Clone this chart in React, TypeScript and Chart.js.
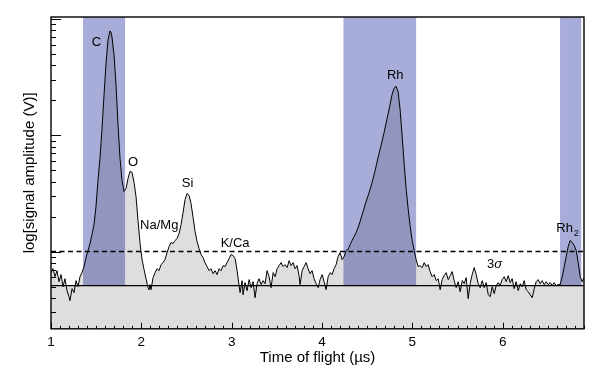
import React, { useEffect, useRef } from 'react';
import { Chart, registerables } from 'chart.js';

Chart.register(...registerables);

// Time of flight (µs)
const timeOfFlight = [
  1.000,1.022,1.044,1.066,1.089,1.111,1.133,1.155,1.177,1.199,
  1.210,1.233,1.255,1.277,1.299,1.321,1.343,1.365,1.388,1.410,
  1.432,1.454,1.476,1.498,1.520,1.543,1.565,1.587,1.609,1.631,
  1.653,1.664,1.675,1.698,1.720,1.742,1.764,1.786,1.808,1.831,
  1.853,1.875,1.897,1.919,1.941,1.963,1.986,2.008,2.030,2.052,
  2.074,2.085,2.096,2.107,2.130,2.152,2.174,2.196,2.218,2.240,
  2.262,2.285,2.307,2.329,2.351,2.373,2.395,2.418,2.440,2.462,
  2.484,2.506,2.528,2.550,2.573,2.595,2.617,2.639,2.661,2.683,
  2.705,2.727,2.750,2.772,2.794,2.816,2.838,2.860,2.883,2.905,
  2.927,2.949,2.971,2.993,3.016,3.038,3.060,3.082,3.093,3.115,
  3.126,3.148,3.170,3.193,3.215,3.237,3.259,3.281,3.303,3.326,
  3.348,3.370,3.392,3.414,3.436,3.459,3.481,3.503,3.525,3.547,
  3.569,3.591,3.614,3.636,3.658,3.680,3.702,3.724,3.746,3.757,
  3.780,3.802,3.824,3.846,3.868,3.890,3.912,3.935,3.957,3.979,
  4.001,4.023,4.045,4.068,4.090,4.112,4.134,4.156,4.178,4.200,
  4.223,4.245,4.267,4.289,4.311,4.333,4.355,4.378,4.400,4.422,
  4.455,4.488,4.522,4.555,4.588,4.621,4.654,4.688,4.721,4.754,
  4.776,4.798,4.820,4.843,4.865,4.887,4.909,4.931,4.953,4.976,
  4.998,5.020,5.042,5.064,5.086,5.109,5.131,5.153,5.175,5.197,
  5.219,5.242,5.264,5.286,5.308,5.330,5.352,5.374,5.397,5.419,
  5.441,5.463,5.485,5.507,5.529,5.552,5.574,5.596,5.618,5.640,
  5.662,5.685,5.707,5.729,5.751,5.773,5.795,5.817,5.840,5.862,
  5.884,5.906,5.928,5.950,5.972,5.994,6.017,6.039,6.061,6.083,
  6.105,6.127,6.149,6.172,6.194,6.216,6.238,6.260,6.282,6.304,
  6.327,6.349,6.371,6.393,6.415,6.437,6.460,6.482,6.504,6.526,
  6.548,6.570,6.592,6.614,6.637,6.659,6.681,6.703,6.725,6.747,
  6.770,6.792,6.814,6.836,6.858,6.880,6.900,
];

// log10 of signal amplitude (V)
const logAmplitude = [
  -1.181,-1.147,-1.216,-1.164,-1.259,-1.198,-1.302,-1.233,-1.336,-1.388,
  -1.422,-1.319,-1.353,-1.250,-1.302,-1.216,-1.181,-1.129,-1.052,-0.991,
  -0.931,-0.853,-0.767,-0.612,-0.388,-0.190,0.060,0.345,0.621,0.819,
  0.897,0.888,0.845,0.690,0.431,0.086,-0.198,-0.388,-0.483,-0.457,
  -0.371,-0.310,-0.319,-0.405,-0.526,-0.733,-0.931,-1.069,-1.155,-1.233,
  -1.310,-1.328,-1.284,-1.328,-1.224,-1.181,-1.147,-1.164,-1.112,-1.095,
  -1.069,-1.009,-0.957,-0.922,-0.931,-0.905,-0.888,-0.845,-0.767,-0.664,
  -0.552,-0.500,-0.517,-0.586,-0.707,-0.828,-0.914,-0.974,-1.026,-1.052,
  -1.095,-1.129,-1.164,-1.147,-1.190,-1.164,-1.198,-1.147,-1.164,-1.121,
  -1.129,-1.095,-1.060,-1.026,-1.034,-1.060,-1.164,-1.293,-1.353,-1.250,
  -1.371,-1.267,-1.336,-1.241,-1.310,-1.259,-1.397,-1.276,-1.233,-1.284,
  -1.250,-1.276,-1.164,-1.216,-1.310,-1.181,-1.216,-1.147,-1.121,-1.095,
  -1.129,-1.112,-1.138,-1.078,-1.121,-1.095,-1.147,-1.121,-1.207,-1.284,
  -1.164,-1.129,-1.095,-1.147,-1.190,-1.164,-1.233,-1.276,-1.310,-1.241,
  -1.198,-1.259,-1.328,-1.216,-1.181,-1.198,-1.147,-1.112,-1.043,-1.009,
  -1.069,-1.043,-0.991,-0.983,-0.940,-0.905,-0.871,-0.836,-0.793,-0.741,
  -0.655,-0.569,-0.491,-0.405,-0.302,-0.190,-0.086,0.026,0.147,0.267,
  0.353,0.405,0.422,0.371,0.216,-0.009,-0.241,-0.457,-0.629,-0.784,
  -0.905,-0.991,-1.069,-1.129,-1.121,-1.138,-1.095,-1.129,-1.112,-1.172,
  -1.216,-1.198,-1.250,-1.233,-1.328,-1.241,-1.207,-1.181,-1.241,-1.207,
  -1.172,-1.250,-1.310,-1.259,-1.345,-1.250,-1.276,-1.224,-1.405,-1.276,
  -1.198,-1.138,-1.198,-1.276,-1.310,-1.250,-1.310,-1.267,-1.371,-1.388,
  -1.302,-1.362,-1.293,-1.267,-1.293,-1.241,-1.216,-1.259,-1.207,-1.267,
  -1.233,-1.319,-1.259,-1.336,-1.276,-1.302,-1.250,-1.328,-1.345,-1.371,
  -1.397,-1.319,-1.259,-1.241,-1.276,-1.250,-1.284,-1.259,-1.284,-1.267,
  -1.293,-1.267,-1.293,-1.284,-1.284,-1.216,-1.129,-1.043,-0.957,-0.905,
  -0.922,-0.948,-0.991,-1.095,-1.216,-1.259,-1.224,
];

const xTickLabels = [1, 2, 3, 4, 5, 6];
const yDecades = [-2, -1, 0, 1];
const yDecadeMultipliers = [1, 2, 3, 4, 5, 6, 7, 8, 9];

const bandStart = [1.355, 4.237, 6.635];
const bandEnd = [1.82, 5.042, 6.87];

const baselineLevel = -1.293;
const threeSigmaLevel = -1.0;

const peakNames = ['C', 'O', 'Na/Mg', 'Si', 'K/Ca', 'Rh'];
const peakNameTime = [1.502, 1.908, 2.198, 2.512, 3.038, 4.81];
const peakNameLog = [0.802, -0.23, -0.776, -0.412, -0.931, 0.515];
const dimerTime = 6.718;
const dimerLog = -0.802;
const sigmaTime = 5.911;
const sigmaLog = -1.112;

const FONT = '"Liberation Sans", Arial, Helvetica, sans-serif';
const BAND_COLOR = 'rgb(168,172,217)';
const LOWER_GRAY = '#dedede';

const overlayPlugin = {
  id: 'tofOverlay',
  beforeDatasetsDraw(chart: any) {
    const { ctx, chartArea: a, scales } = chart;
    const x = scales.x, y = scales.y;
    const yb = y.getPixelForValue(baselineLevel);
    ctx.save();
    ctx.fillStyle = BAND_COLOR;
    bandStart.forEach((s, i) => {
      const x0 = x.getPixelForValue(s);
      const x1 = x.getPixelForValue(bandEnd[i]);
      ctx.fillRect(x0, a.top, x1 - x0, yb - a.top);
    });
    ctx.restore();
  },
  beforeDatasetDraw(chart: any, args: any) {
    if (args.index !== 0) return;
    const { ctx, chartArea: a, scales } = chart;
    const yb = scales.y.getPixelForValue(baselineLevel);
    ctx.save();
    ctx.fillStyle = LOWER_GRAY;
    ctx.fillRect(a.left, yb, a.right - a.left, a.bottom - yb);
    ctx.restore();
  },
  afterDatasetsDraw(chart: any) {
    const { ctx, chartArea: a, scales } = chart;
    const x = scales.x, y = scales.y;
    ctx.save();
    // baseline
    const yb = y.getPixelForValue(baselineLevel);
    ctx.strokeStyle = '#000';
    ctx.lineWidth = 1.4;
    ctx.beginPath();
    ctx.moveTo(a.left, yb);
    ctx.lineTo(a.right, yb);
    ctx.stroke();
    // 3 sigma dashed line
    const ys = y.getPixelForValue(threeSigmaLevel);
    ctx.setLineDash([5, 3.5]);
    ctx.lineWidth = 1.5;
    ctx.beginPath();
    ctx.moveTo(a.left, ys);
    ctx.lineTo(a.right, ys);
    ctx.stroke();
    ctx.setLineDash([]);

    // y ticks (log decades, inward)
    ctx.lineWidth = 1;
    yDecades.forEach((d) => {
      yDecadeMultipliers.forEach((m) => {
        const v = d + Math.log10(m);
        if (v < y.min || v > y.max) return;
        const py = Math.round(y.getPixelForValue(v)) + 0.5;
        const len = m === 1 ? 10 : 5;
        ctx.beginPath();
        ctx.moveTo(a.left, py);
        ctx.lineTo(a.left + len, py);
        ctx.stroke();
      });
    });
    // x ticks (inward)
    for (let k = 10; k <= 69; k++) {
      const v = k / 10;
      const px = Math.round(x.getPixelForValue(v)) + 0.5;
      const len = k % 10 === 0 ? 6 : 3;
      ctx.beginPath();
      ctx.moveTo(px, a.bottom);
      ctx.lineTo(px, a.bottom - len);
      ctx.stroke();
    }

    // frame
    ctx.lineWidth = 1.4;
    ctx.strokeRect(a.left, a.top, a.right - a.left, a.bottom - a.top);

    // labels
    ctx.fillStyle = '#000';
    ctx.font = `13px ${FONT}`;
    ctx.textAlign = 'center';
    ctx.textBaseline = 'middle';
    peakNames.forEach((n, i) => {
      ctx.fillText(n, x.getPixelForValue(peakNameTime[i]), y.getPixelForValue(peakNameLog[i]));
    });
    // Rh2
    const rhW = ctx.measureText('Rh').width;
    ctx.font = `9px ${FONT}`;
    const subW = ctx.measureText('2').width;
    const cx = x.getPixelForValue(dimerTime);
    const cy = y.getPixelForValue(dimerLog);
    const left = cx - (rhW + subW + 1) / 2;
    ctx.textAlign = 'left';
    ctx.font = `13px ${FONT}`;
    ctx.fillText('Rh', left, cy);
    ctx.font = `9px ${FONT}`;
    ctx.fillText('2', left + rhW + 1, cy + 5);
    // 3 sigma
    ctx.font = `13px ${FONT}`;
    const w3 = ctx.measureText('3').width;
    ctx.font = `italic 13px ${FONT}`;
    const ws = ctx.measureText('σ').width;
    const sx = x.getPixelForValue(sigmaTime) - (w3 + ws) / 2;
    const sy = y.getPixelForValue(sigmaLog);
    ctx.font = `13px ${FONT}`;
    ctx.fillText('3', sx, sy);
    ctx.font = `italic 13px ${FONT}`;
    ctx.fillText('σ', sx + w3, sy);
    ctx.restore();
  },
};

export default function App() {
  const canvasRef = useRef<HTMLCanvasElement | null>(null);

  useEffect(() => {
    const points = timeOfFlight.map((t, i) => ({ x: t, y: logAmplitude[i] }));
    const chart = new Chart(canvasRef.current as HTMLCanvasElement, {
      type: 'line',
      data: {
        datasets: [
          {
            label: 'signal',
            data: points,
            borderColor: '#000',
            borderWidth: 1,
            pointRadius: 0,
            fill: false,
            tension: 0,
            order: 0,
          },
          {
            label: 'signal area',
            data: points,
            borderWidth: 0,
            borderColor: 'rgba(0,0,0,0)',
            backgroundColor: 'rgba(0,0,0,0.13)',
            pointRadius: 0,
            fill: { value: baselineLevel },
            tension: 0,
            order: 1,
          },
        ],
      },
      options: {
        animation: false,
        responsive: true,
        maintainAspectRatio: false,
        layout: { padding: { top: 17, right: 16, left: 0, bottom: 0 } },
        plugins: { legend: { display: false }, tooltip: { enabled: false } },
        scales: {
          x: {
            type: 'linear',
            min: 1,
            max: 6.9,
            afterBuildTicks: (axis: any) => {
              axis.ticks = xTickLabels.map((v) => ({ value: v }));
            },
            grid: { display: false, drawTicks: false },
            border: { display: false },
            ticks: {
              color: '#000',
              font: { family: FONT, size: 13.5 },
              padding: 5,
              maxRotation: 0,
              autoSkip: false,
            },
            title: {
              display: true,
              text: 'Time of flight (µs)',
              color: '#000',
              font: { family: FONT, size: 15 },
              padding: { top: -6, bottom: 18 },
            },
          },
          y: {
            type: 'linear',
            min: -1.664,
            max: 1.017,
            grid: { display: false, drawTicks: false },
            border: { display: false },
            ticks: { display: false },
            title: {
              display: true,
              text: 'log[signal amplitude (V)]',
              color: '#000',
              font: { family: FONT, size: 15 },
              padding: { top: 20.5, bottom: 12.5 },
            },
          },
        },
      },
      plugins: [overlayPlugin],
    } as any);
    return () => chart.destroy();
  }, []);

  return (
    <div style={{ position: 'fixed', left: 0, top: 0, width: 600, height: 385, background: '#fff' }}>
      <canvas ref={canvasRef} />
    </div>
  );
}
